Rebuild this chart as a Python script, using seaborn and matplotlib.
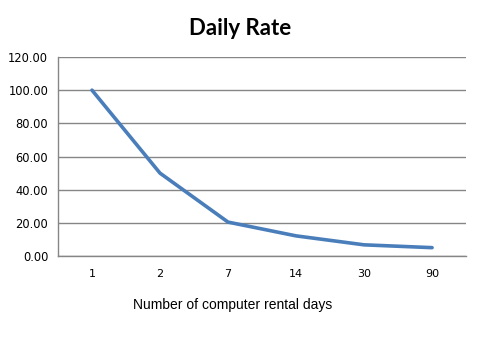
import matplotlib
matplotlib.use("Agg")
import matplotlib.pyplot as plt
import matplotlib.ticker as mticker
import seaborn as sns
import pandas as pd

days = ["1", "2", "7", "14", "30", "90"]
rate = [100.0, 50.0, 20.5, 12.2, 6.8, 5.1]

sns.set_style("white")
plt.rcParams['font.family'] = ['DejaVu Sans']

df = pd.DataFrame({"days": days, "rate": rate})

fig = plt.figure(figsize=(4.83, 3.37), dpi=100)
ax = fig.add_axes([0.120, 0.240, 0.845, 0.591])

sns.lineplot(data=df, x="days", y="rate", ax=ax, color="#4A7EBB", linewidth=2.6,
             sort=False)

ax.set_xlim(-0.5, len(days) - 0.5)
ax.set_ylim(0, 120)
ax.set_yticks([0, 20, 40, 60, 80, 100, 120])
ax.yaxis.set_major_formatter(mticker.FormatStrFormatter("%.2f"))
ax.yaxis.grid(True, color="#868686", linewidth=1.0)
ax.set_axisbelow(True)

ax.xaxis.set_minor_locator(mticker.FixedLocator([i - 0.5 for i in range(len(days) + 1)]))
ax.tick_params(axis="x", which="major", length=0, pad=9, labelsize=8, colors="black")
ax.tick_params(axis="x", which="minor", length=4, width=1, color="#868686", direction="out")
ax.tick_params(axis="y", which="major", length=4, width=1, color="#868686", direction="out",
               labelsize=8.3, labelcolor="black", pad=3)

for s in ["top", "right"]:
    ax.spines[s].set_visible(False)
for s in ["left", "bottom"]:
    ax.spines[s].set_color("#868686")
    ax.spines[s].set_linewidth(1.0)

ax.set_xlabel("Number of computer rental days", family="Liberation Sans", fontsize=10,
              color="black")
ax.xaxis.set_label_coords(0.429, -0.21)
ax.set_ylabel("")
fig.text(0.497, 0.915, "Daily Rate", ha="center", va="center", family="Lato",
         fontweight="bold", fontsize=16, color="black")

fig.savefig("out.png", dpi=100, facecolor="white")
